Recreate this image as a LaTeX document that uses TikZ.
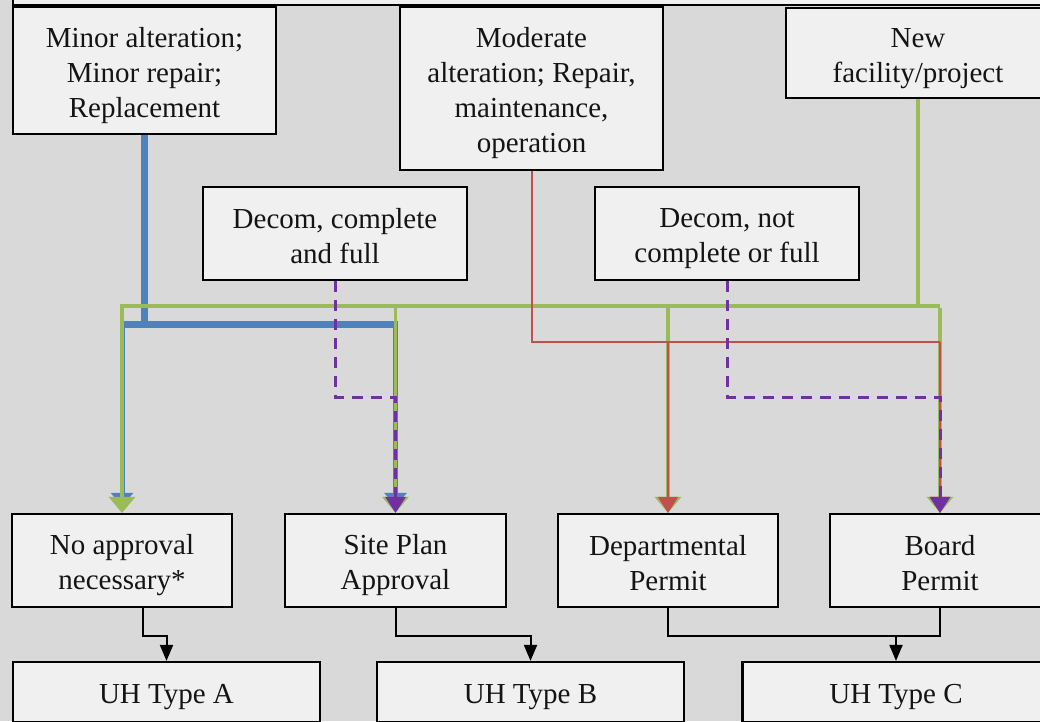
\documentclass[tikz,border=0pt]{standalone}
\usepackage{fontspec}
\setmainfont{Liberation Serif}
\usetikzlibrary{arrows.meta}
\definecolor{bg}{HTML}{D9D9D9}
\definecolor{boxfill}{HTML}{F0F0F0}
\definecolor{cblue}{HTML}{4F81BD}
\definecolor{cgreen}{HTML}{9BBB59}
\definecolor{cred}{HTML}{C0504D}
\definecolor{cpurple}{HTML}{7030A0}
\definecolor{txt}{HTML}{141414}
\newcommand\Tb{\rule{0pt}{30pt}}
\newcommand\Te{\rule[-6pt]{0pt}{6pt}}
\tikzset{
  box/.style={draw=black, line width=2.2pt, fill=boxfill, inner sep=0pt, align=center,
    text=txt, font=\fontsize{29}{35}\selectfont},
  bluethick/.style={draw=cblue, line width=7pt},
  bluearr/.style={draw=cblue, line width=5pt, -{Triangle[width=22pt,length=13pt]}, shorten >=7pt},
  greenline/.style={draw=cgreen, line width=4pt},
  greenarr/.style={draw=cgreen, line width=3.5pt, -{Triangle[width=26pt,length=16pt]}},
  redline/.style={draw=cred, line width=2pt},
  redarr/.style={draw=cred, line width=2pt, -{Triangle[width=20pt,length=16pt]}},
  purplearr/.style={draw=cpurple, line width=3pt, dash pattern=on 11pt off 8pt, -{Triangle[width=20pt,length=16pt]}},
  blk/.style={draw=black, line width=2pt},
  blkarr/.style={draw=black, line width=2pt, -{Triangle[width=13pt,length=16pt]}}
}
\begin{document}
\begin{tikzpicture}[x=1pt,y=-1pt]
\useasboundingbox (0,0) rectangle (1040,721);
\begin{scope}
\clip (0,0) rectangle (1040,721);
\fill[bg] (0,0) rectangle (1040,721);
% top cut-off box
\draw[line width=2.2pt, fill=boxfill] (13,-20) rectangle (1060,5);

\node[box, minimum width=263pt, minimum height=127pt] (minor) at (144.5,70.5) {\Tb Minor alteration;\\Minor repair;\\Replacement\Te};
\node[box, minimum width=263pt, minimum height=163pt] (moderate) at (531.5,88.5) {\Tb Moderate\\alteration; Repair,\\maintenance,\\operation\Te};
\node[box, minimum width=264pt, minimum height=90pt] (new) at (918,53) {\Tb New\\facility/project\Te};
\node[box, minimum width=264pt, minimum height=93pt] (decomA) at (335,233.5) {\Tb Decom, complete\\and full\Te};
\node[box, minimum width=264pt, minimum height=93pt] (decomB) at (727,233.5) {\Tb Decom, not\\complete or full\Te};
\node[box, minimum width=220pt, minimum height=93pt] (noapp) at (122,560.5) {\Tb No approval\\necessary*\Te};
\node[box, minimum width=221pt, minimum height=93pt] (site) at (395.5,560.5) {\Tb Site Plan\\Approval\Te};
\node[box, minimum width=220pt, minimum height=93pt] (dept) at (668,560.5) {\Tb Departmental\\Permit\Te};
\node[box, minimum width=220pt, minimum height=93pt] (board) at (940,560.5) {\Tb Board\\Permit\Te};
\node[box, minimum width=307pt, minimum height=60pt] (uhA) at (166.5,692) {\Tb UH Type A\Te};
\node[box, minimum width=307pt, minimum height=60pt] (uhB) at (530.5,692) {\Tb UH Type B\Te};
\node[box, minimum width=307pt, minimum height=60pt] (uhC) at (896,692) {\Tb UH Type C\Te};

% junction coordinates
\coordinate (bL) at (122,324);
\coordinate (bR) at (395.5,324);
\coordinate (gL) at (122,306);
\coordinate (gR) at (940,306);
\coordinate (rR) at (940,342);
\coordinate (pA) at (395.5,397);
\coordinate (pB) at (940,397);
\coordinate (jA) at (143,636);
\coordinate (jB) at (530.5,636);
\coordinate (jC) at (896,636);

% blue
\draw[bluethick] (minor.south) -- (minor.south |- bL);
\draw[bluethick] ([xshift=-2.5pt]bL) -- ([xshift=2.5pt]bR);
\draw[bluearr] (bL) -- (noapp.north);
\draw[bluearr] (bR) -- (site.north);

% green
\draw[greenline, line join=miter] (new.south) -- (new.south |- gR) -- (gR);
\draw[greenline] ([xshift=-1.75pt]gL) -- (gR);
\draw[greenarr] (gL) -- (noapp.north);
\draw[greenarr] (site.north |- gL) -- (site.north);
\draw[greenarr] (dept.north |- gL) -- (dept.north);
\draw[greenarr] ([yshift=-2pt]gR) -- (board.north);

% red
\draw[redline] (moderate.south) |- (rR);
\draw[redarr] (rR) -- (board.north);
\draw[redarr] (dept.north |- rR) -- (dept.north);

% purple dashed
\draw[purplearr] (decomA.south) |- (pA) -- (site.north);
\draw[purplearr] (decomB.south) |- (pB) -- (board.north);

% black connectors
\draw[blkarr] (noapp.south -| jA) |- (uhA.north |- jA) -- (uhA.north);
\draw[blkarr] (site.south) |- (jB) -- (uhB.north);
\draw[blk] (dept.south) |- (board.south |- jC) -- (board.south);
\draw[blkarr] (jC) -- (uhC.north);
\end{scope}
\end{tikzpicture}
\end{document}
